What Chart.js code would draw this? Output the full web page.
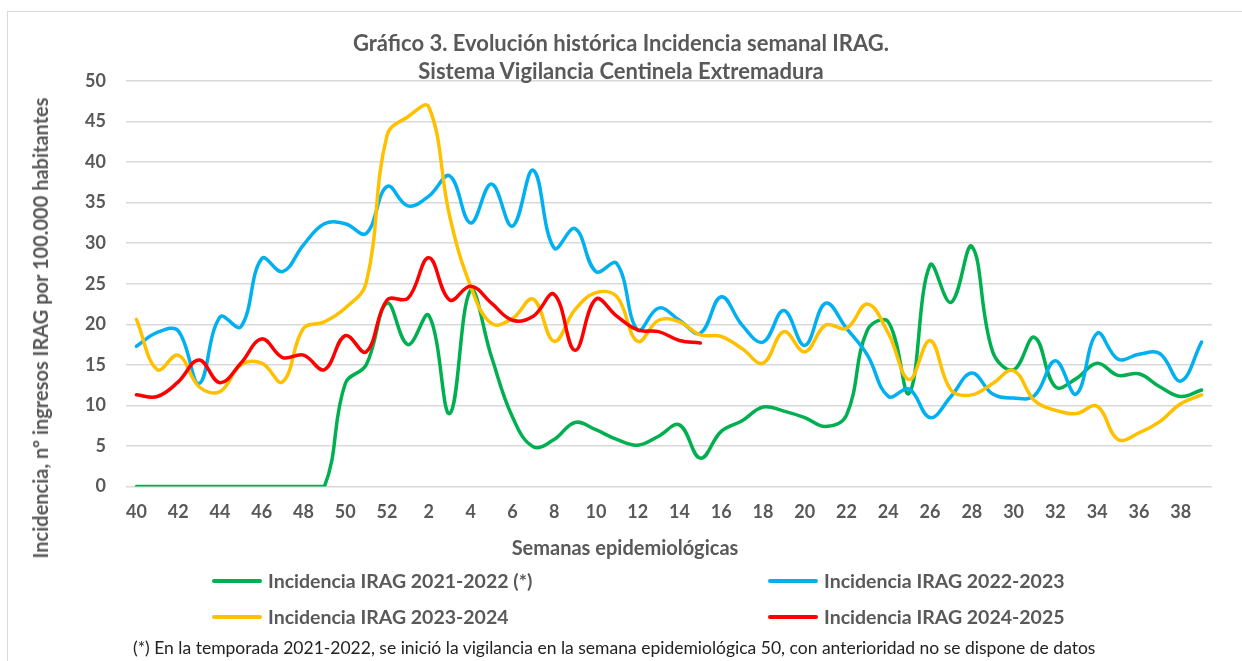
<!DOCTYPE html>
<html lang="es">
<head>
<meta charset="utf-8">
<title>Gráfico 3. Evolución histórica Incidencia semanal IRAG</title>
<script src="https://cdn.jsdelivr.net/npm/chart.js@4.4.1/dist/chart.umd.min.js"></script>
<style>
    html, body { margin: 0; padding: 0; background: #fff; }
    body { width: 1242px; height: 661px; overflow: hidden; position: relative; font-family: Lato, "Open Sans", sans-serif; color: #595959; }
    .frame { position: absolute; left: 7px; top: 11px; width: 1260px; height: 700px; border: 1px solid #d9d9d9; box-sizing: border-box; }
    .chart-box { position: absolute; left: 0; top: 0; width: 1242px; height: 661px; }
    .title { position: absolute; left: 0; top: 29px; width: 1242px; text-align: center; font-weight: 700; font-size: 22px; line-height: 28px; }
    .x-title { position: absolute; left: 4px; top: 536px; width: 1242px; text-align: center; font-weight: 700; font-size: 20px; line-height: 22px; }
    .y-title { position: absolute; left: 40px; top: 328px; transform: translate(-50%, -50%) rotate(-90deg); white-space: nowrap; font-weight: 700; font-size: 20px; line-height: 22px; }
    .legend-item { position: absolute; display: flex; align-items: center; font-weight: 700; font-size: 19.5px; line-height: 22px; white-space: nowrap; }
    .legend-item .swatch { width: 50px; height: 4px; border-radius: 2px; margin-right: 6px; }
    .note { position: absolute; left: 133px; top: 638px; font-size: 17.5px; line-height: 20px; color: #222; white-space: nowrap; }
</style>
</head>
<body>
<div class="frame"></div>
<div class="chart-box"><canvas id="iragChart" width="1242" height="661"></canvas></div>
<div class="title">Gráfico 3. Evolución histórica Incidencia semanal IRAG.<br>Sistema Vigilancia Centinela Extremadura</div>
<div class="x-title">Semanas epidemiológicas</div>
<div class="y-title">Incidencia, nº ingresos IRAG por 100.000 habitantes</div>
<div id="legend"></div>
<div class="note">(*) En la temporada 2021-2022, se inició la vigilancia en la semana epidemiológica 50, con anterioridad no se dispone de datos</div>

<script>
// Semanas epidemiológicas: 40..52 y luego 1..39
const weeks = ['40','41','42','43','44','45','46','47','48','49','50','51','52',
    '1','2','3','4','5','6','7','8','9','10','11','12','13','14','15','16','17','18','19','20',
    '21','22','23','24','25','26','27','28','29','30','31','32','33','34','35','36','37','38','39'];

const season2122 = [0, 0, 0, 0, 0, 0, 0, 0, 0, 0, 12.7, 15.0, 22.6,
    17.5, 21.1, 9.0, 24.2, 16.0, 8.6, 4.9, 5.8, 7.9, 7.0, 5.8, 5.1, 6.2, 7.6, 3.5, 6.8, 8.1, 9.8, 9.3, 8.5,
    7.4, 8.8, 19.3, 20.3, 11.5, 27.3, 22.7, 29.6, 16.6, 14.4, 18.4, 12.3, 13.3, 15.2, 13.7, 13.9, 12.3, 11.1, 11.9];

const season2223 = [17.3, 19.0, 19.2, 12.7, 20.9, 19.7, 28.1, 26.5, 29.8, 32.4, 32.4, 31.2, 37.0,
    34.6, 35.8, 38.3, 32.5, 37.3, 32.1, 39.0, 29.4, 31.8, 26.5, 27.5, 19.3, 22.0, 20.5, 18.9, 23.4, 19.9, 17.8, 21.7, 17.4,
    22.6, 19.5, 16.2, 11.1, 12.0, 8.5, 11.1, 14.0, 11.4, 10.9, 11.2, 15.5, 11.4, 18.9, 15.7, 16.3, 16.4, 13.0, 17.8];

const season2324 = [20.6, 14.4, 16.2, 12.3, 11.7, 15.0, 15.2, 12.9, 19.5, 20.3, 22.0, 25.1, 43.3,
    45.6, 46.8, 33.3, 24.7, 20.1, 20.7, 23.1, 17.9, 21.8, 23.9, 23.4, 17.9, 20.5, 20.3, 18.7, 18.5, 17.0, 15.2, 19.1, 16.6,
    19.9, 19.5, 22.5, 18.9, 13.2, 18.0, 11.9, 11.3, 12.7, 14.3, 10.6, 9.4, 9.0, 9.9, 5.8, 6.6, 8.0, 10.2, 11.3];

const season2425 = [11.3, 11.1, 12.9, 15.6, 12.8, 15.2, 18.2, 15.9, 16.2, 14.4, 18.6, 16.6, 23.0,
    23.2, 28.2, 23.0, 24.7, 22.6, 20.5, 21.0, 23.7, 16.8, 23.1, 21.0, 19.3, 19.1, 18.0, 17.7];

const seriesNames = ['Incidencia IRAG 2021-2022 (*)', 'Incidencia IRAG 2022-2023',
    'Incidencia IRAG 2023-2024', 'Incidencia IRAG 2024-2025'];
const seriesColors = ['#00B050', '#00B0F0', '#FFC000', '#FF0000'];
const seriesData = [season2122, season2223, season2324, season2425];

const yTicksMax = 50;
const yTicksStep = 5;

const textGray = '#595959';
const font = 'Lato, "Open Sans", sans-serif';

const datasets = seriesData.map((values, i) => ({
    label: seriesNames[i],
    data: values,
    borderColor: seriesColors[i],
    backgroundColor: seriesColors[i],
    borderWidth: 3.5,
    borderCapStyle: 'round',
    borderJoinStyle: 'round',
    pointRadius: 0,
    tension: 0.4,
    fill: false,
    order: seriesData.length - 1 - i // later seasons on top, like the original
}));

const ctx = document.getElementById('iragChart');
const chart = new Chart(ctx.getContext('2d'), {
    type: 'line',
    data: { labels: weeks, datasets: datasets },
    options: {
        responsive: false,
        animation: false,
        events: [],
        layout: { padding: { left: 0, right: 30, top: 81, bottom: 134.5 } },
        plugins: {
            legend: { display: false },
            title: { display: false },
            tooltip: { enabled: false }
        },
        scales: {
            x: {
                offset: true,
                grid: { display: false, drawTicks: false },
                border: { display: false },
                afterFit: (scale) => { scale.height = 40; },
                ticks: {
                    autoSkip: false,
                    maxRotation: 0,
                    padding: 15,
                    color: textGray,
                    font: { family: font, size: 18, weight: 'bold' },
                    callback: function (val, i) {
                        return i % 2 === 0 ? this.getLabelForValue(val) : '';
                    }
                }
            },
            y: {
                min: 0,
                max: yTicksMax,
                grid: { color: '#d9d9d9', lineWidth: 1.5, drawTicks: false },
                border: { display: false },
                afterFit: (scale) => { scale.width = 126; },
                ticks: {
                    stepSize: yTicksStep,
                    padding: 20,
                    color: textGray,
                    font: { family: font, size: 18, weight: 'bold' }
                }
            }
        }
    }
});

// Leyenda en dos columnas, como en el original
const legendPos = [
    { left: 212, top: 570 },
    { left: 768, top: 570 },
    { left: 212, top: 606 },
    { left: 768, top: 606 }
];
const legendEl = document.getElementById('legend');
legendEl.innerHTML = chart.data.datasets.map((ds, i) => `
    <div class="legend-item" style="left:${legendPos[i].left}px; top:${legendPos[i].top}px">
        <span class="swatch" style="background:${ds.borderColor}"></span>${ds.label}
    </div>
`).join('');
</script>
</body>
</html>
